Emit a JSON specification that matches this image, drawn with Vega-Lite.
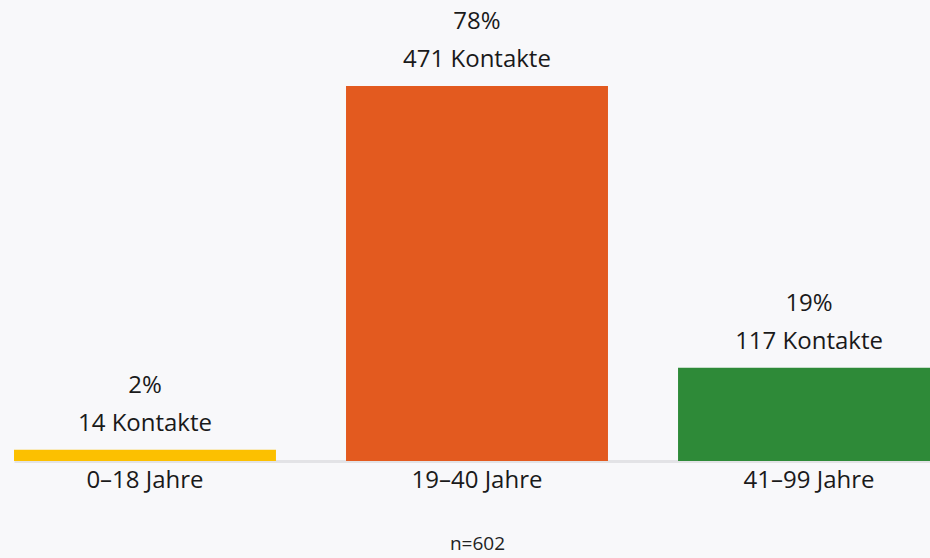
{
  "$schema": "https://vega.github.io/schema/vega-lite/v6.json",
  "width": 930,
  "height": 461,
  "autosize": {"type": "none"},
  "padding": {"left": 0, "top": 0, "right": 0, "bottom": 97},
  "background": "#f8f8fa",
  "config": {
    "view": {"stroke": null},
    "font": "Open Sans",
    "text": {"font": "Open Sans"}
  },
  "data": {
    "values": [
      {"group": "0–18 Jahre", "count": 14, "pct": "2%", "kontakte": "14 Kontakte"},
      {"group": "19–40 Jahre", "count": 471, "pct": "78%", "kontakte": "471 Kontakte"},
      {"group": "41–99 Jahre", "count": 117, "pct": "19%", "kontakte": "117 Kontakte"}
    ]
  },
  "encoding": {
    "x": {
      "field": "group",
      "type": "nominal",
      "sort": null,
      "scale": {"range": [14, 940], "paddingInner": 0.211, "paddingOuter": 0},
      "axis": {
        "title": "n=602",
        "titleFont": "Open Sans",
        "titleFontSize": 19,
        "titleFontWeight": "normal",
        "titleColor": "#222222",
        "titlePadding": 42,
        "labelAngle": 0,
        "labelFont": "Open Sans",
        "labelFontSize": 24,
        "labelColor": "#1a1a1a",
        "labelPadding": 7,
        "ticks": false,
        "domainColor": "#e3e3e6",
        "domainWidth": 3
      }
    },
    "y": {
      "field": "count",
      "type": "quantitative",
      "scale": {"domain": [0, 579], "nice": false},
      "axis": null
    }
  },
  "layer": [
    {
      "mark": {"type": "bar", "cornerRadius": 0},
      "encoding": {
        "color": {
          "field": "group",
          "type": "nominal",
          "sort": null,
          "scale": {"range": ["#FCC000", "#E35A1F", "#2E8A38"]},
          "legend": null
        }
      }
    },
    {
      "mark": {"type": "text", "baseline": "bottom", "dy": -14, "fontSize": 24, "color": "#1a1a1a"},
      "encoding": {"text": {"field": "kontakte"}}
    },
    {
      "mark": {"type": "text", "baseline": "bottom", "dy": -52, "fontSize": 24, "color": "#1a1a1a"},
      "encoding": {"text": {"field": "pct"}}
    }
  ]
}
